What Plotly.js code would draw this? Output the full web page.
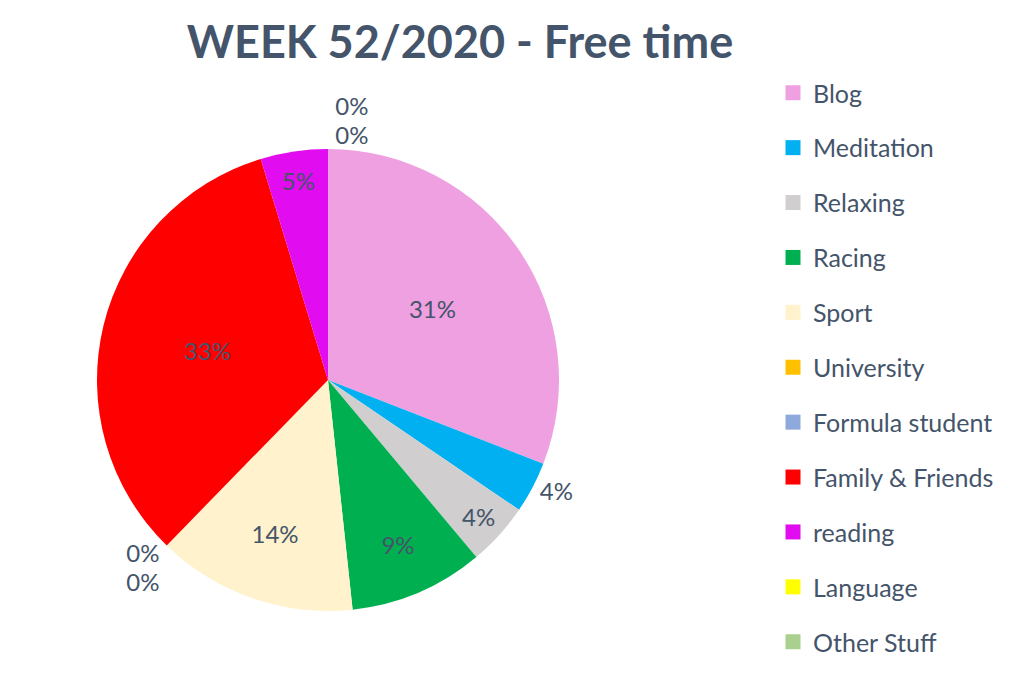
<!DOCTYPE html>
<html>
<head>
<meta charset="utf-8">
<script src="https://cdn.plot.ly/plotly-3.0.1.min.js"></script>
<style>
html,body{margin:0;padding:0;background:#fff;}
#chart{width:1024px;height:673px;}
#chart path.textline{display:none;}
</style>
</head>
<body>
<div id="chart"></div>
<script>
// Data (percent of free time)
const categories = ["Blog", "Meditation", "Relaxing", "Racing", "Sport", "University",
  "Formula student", "Family & Friends", "reading", "Language", "Other Stuff"];
const shares = [30.9, 3.6, 4.4, 9.4, 14.0, 0, 0, 33.0, 4.7, 0, 0];
const colors = ["#EFA0E1", "#00B0F0", "#D0CECE", "#00B050", "#FFF2CC", "#FFC000",
  "#8EA9DB", "#FF0000", "#E10CF0", "#FFFF00", "#A9D08E"];
const labelPlacement = ["inside", "outside", "inside", "inside", "inside", "outside",
  "outside", "inside", "inside", "outside", "outside"];

const textColor = "#44546A";
const font = "Lato, 'Open Sans', sans-serif";

const pie = {
  type: "pie",
  labels: categories,
  values: shares,
  sort: false,
  direction: "clockwise",
  rotation: 0,
  marker: { colors: colors, line: { width: 0 } },
  texttemplate: "%{percent:.0%}",
  textposition: labelPlacement,
  insidetextorientation: "horizontal",
  textfont: { family: font, size: 24, color: textColor },
  outsidetextfont: { family: font, size: 24, color: textColor },
  showlegend: false,
  domain: { x: [97 / 1024, 559 / 1024], y: [1 - 611 / 673, 1 - 149 / 673] },
  hoverinfo: "label+percent"
};

const legendTraces = categories.map((c, i) => ({
  type: "scatter",
  mode: "markers",
  x: [null], y: [null],
  name: c,
  legendgroup: "g" + i,
  marker: { symbol: "square", size: 15, color: colors[i] },
  showlegend: true,
  hoverinfo: "skip"
}));

const layout = {
  width: 1024, height: 673,
  margin: { l: 0, r: 0, t: 0, b: 0, autoexpand: false },
  paper_bgcolor: "#ffffff",
  plot_bgcolor: "#ffffff",
  title: {
    text: "<b>WEEK 52/2020 - Free time</b>",
    x: 460 / 1024, xanchor: "center",
    y: 1 - 42 / 673, yanchor: "middle",
    xref: "paper", yref: "paper",
    font: { family: font, size: 45, color: textColor }
  },
  xaxis: { visible: false, domain: [0.8, 0.81] },
  yaxis: { visible: false, domain: [0.5, 0.51] },
  showlegend: true,
  legend: {
    x: 773 / 1024, xanchor: "left",
    y: 1 - 70 / 673, yanchor: "top",
    font: { family: font, size: 25, color: textColor },
    tracegroupgap: 19.4,
    traceorder: "grouped",
    bgcolor: "rgba(0,0,0,0)",
    borderwidth: 0,
    itemclick: false, itemdoubleclick: false
  }
};

Plotly.newPlot("chart", [pie].concat(legendTraces), layout, { displayModeBar: false, staticPlot: true });
</script>
</body>
</html>
